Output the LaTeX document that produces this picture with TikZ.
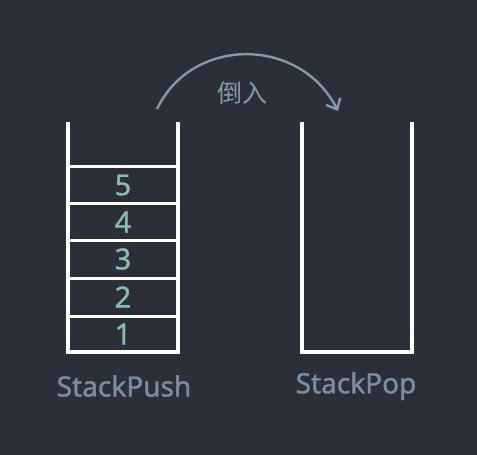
\documentclass[tikz,border=0pt]{standalone}
\usepackage{fontspec}
\setmainfont{Noto Sans}[FakeBold=1.2]
\newfontfamily\cjk{Noto Sans CJK SC}
\usetikzlibrary{arrows.meta}
\definecolor{bg}{HTML}{2B3038}
\definecolor{numc}{HTML}{86BDB0}
\definecolor{labc}{HTML}{7D8CA0}
\definecolor{arcc}{HTML}{8898AC}
\tikzset{
  wall/.style={draw=white, line width=3.6pt},
  sep/.style={draw=white, line width=3pt},
  num/.style={text=numc, font=\bfseries\fontsize{29}{29}\selectfont, inner sep=0pt},
  lab/.style={text=labc, font=\bfseries\fontsize{28}{28}\selectfont, inner sep=0pt},
  arclab/.style={text=arcc, font=\cjk\fontsize{25}{25}\selectfont, inner sep=0pt},
}
\begin{document}
\begin{tikzpicture}[x=1pt,y=-1pt]
\fill[bg] (0,0) rectangle (477,455);
\useasboundingbox (0,0) rectangle (477,455);
% left stack
\draw[wall, line join=miter] (68,122) -- (68,352) -- (178,352) -- (178,122);
\foreach \y in {166,203,240,278,316}{\draw[sep] (68,\y) -- (178,\y);}
\node[num] (n5) at (123,185) {5};
\node[num] (n4) at (123,222) {4};
\node[num] (n3) at (123,259) {3};
\node[num] (n2) at (123,297) {2};
\node[num] (n1) at (123,334) {1};
% right stack
\draw[wall, line join=miter] (302,122) -- (302,352) -- (412,352) -- (412,122);
\node[lab] (push) at (124,386) {StackPush};
\node[lab] (pop) at (356,386) {StackPop};
% arc
\coordinate (a0) at (157,109);
\coordinate (a1) at (338,111);
\draw[arcc, line width=2.4pt, -{Straight Barb[length=9pt,width=16pt]}] (a0) .. controls (192,36) and (300,36) .. (a1);
\node[arclab] (pour) at (242,93) {倒入};
\end{tikzpicture}
\end{document}
